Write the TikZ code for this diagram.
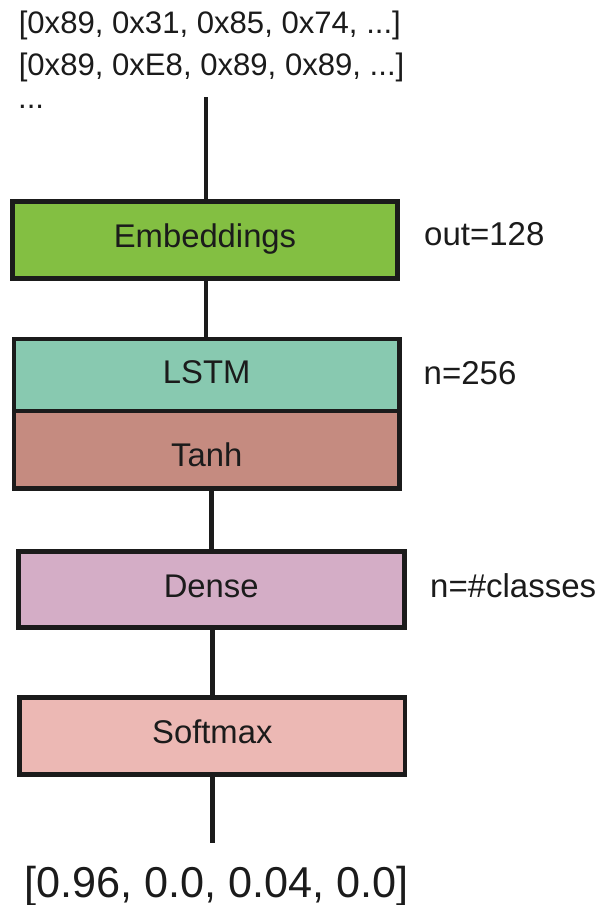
\documentclass[tikz,border=0pt]{standalone}
\usepackage{fontspec}
\setmainfont{Liberation Sans}
\definecolor{ink}{HTML}{1B1B1B}
\definecolor{embfill}{HTML}{83BF42}
\definecolor{lstmfill}{HTML}{88C9B0}
\definecolor{tanhfill}{HTML}{C58B80}
\definecolor{densefill}{HTML}{D4ADC6}
\definecolor{softfill}{HTML}{ECB8B4}
\tikzset{
  layer/.style={draw=ink, line width=4.8pt, text=ink, inner sep=0pt,
    minimum width=385.5pt, minimum height=77pt,
    font=\fontsize{32.8}{39}\selectfont, text height=24pt, text depth=8pt},
  wire/.style={draw=ink, line width=4.8pt},
  note/.style={text=ink, inner sep=0pt, anchor=base west,
    font=\fontsize{33}{39}\selectfont},
  datatext/.style={text=ink, inner sep=0pt, anchor=base west,
    font=\fontsize{31.1}{37}\selectfont},
}
\begin{document}
\begin{tikzpicture}[x=1pt, y=-1pt]
  \useasboundingbox[fill=white] (0,0) rectangle (600,905);

  % input byte sequences
  \node[datatext] (seq1) at (18.6,33.3) {[0x89, 0x31, 0x85, 0x74, ...]};
  \node[datatext] (seq2) at (18.6,75.3) {[0x89, 0xE8, 0x89, 0x89, ...]};
  \node[datatext] (seqdots) at (18,108) {...};
  \coordinate (inp) at (206,97);

  % layers
  \node[layer, fill=embfill] (emb) at (205,239.8) {Embeddings};
  \node[layer, fill=lstmfill, minimum height=71.9pt] (lstm) at (206.7,375) {LSTM};
  \node[layer, fill=tanhfill, minimum height=77.3pt, text height=41pt] (tanh) at (206.7,449.7) {Tanh};
  \node[layer, fill=densefill, minimum width=386.2pt, minimum height=76.2pt] (dense) at (211.2,589.5) {Dense};
  \node[layer, fill=softfill, minimum height=76.9pt] (soft) at (212.3,735.8) {Softmax};
  \coordinate (outp) at (212.3,843);

  % layer sizes
  \node[note] (embsz) at (424,245.5) {out=128};
  \node[note] (lstmsz) at (423.5,384) {n=256};
  \node[note] (densesz) at (430,597) {n=\#classes};

  % connectors
  \draw[wire] (inp) -- (inp |- emb.north);
  \draw[wire] (inp |- emb.south) -- (inp |- lstm.north);
  \draw[wire] (dense.north |- tanh.south) -- (dense.north);
  \draw[wire] (soft.north |- dense.south) -- (soft.north);
  \draw[wire] (soft.south) -- (outp);

  % output probabilities
  \node[text=ink, inner sep=0pt, anchor=base west, font=\fontsize{43.2}{51}\selectfont]
    (result) at (24.3,897) {[0.96, 0.0, 0.04, 0.0]};
\end{tikzpicture}
\end{document}
